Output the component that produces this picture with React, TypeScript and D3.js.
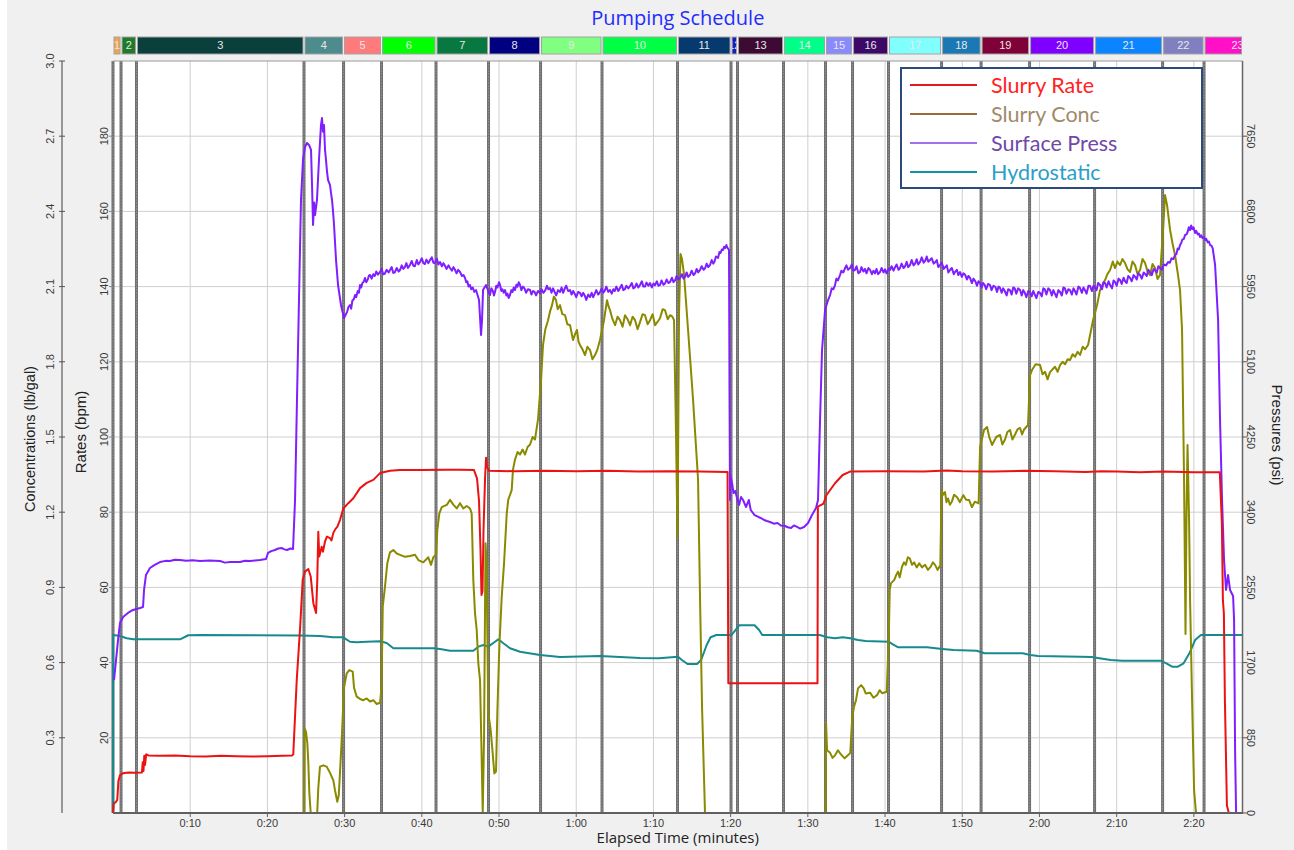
import React from "react";
import * as d3 from "d3";

// ---- chart data -------------------------------------------------------------

// stage boundaries in elapsed minutes (23 stages)
const stageBounds = [
  0, 1.04, 3.04, 24.74, 29.86, 34.78, 41.84, 48.64, 55.38, 63.34, 73.12, 80.05,
  80.89, 86.85, 92.29, 95.79, 100.45, 107.32, 112.44, 118.72, 127.14, 135.95,
  141.32, 150,
];
const stageLabels = [
  "1", "2", "3", "4", "5", "6", "7", "8", "9", "10", "11", "12", "13", "14",
  "15", "16", "17", "18", "19", "20", "21", "22", "23",
];
const stageColors = [
  "#f0a24c", "#1f7a2a", "#0b3f3c", "#4e8b8c", "#ff7b7b", "#00ff00", "#07783f",
  "#000080", "#80ff80", "#00ff44", "#063a6e", "#1020c0", "#3c0a33", "#00ff88",
  "#8a8aff", "#3c0a66", "#80ffff", "#1a78b4", "#800038", "#8000ff", "#0a84ff",
  "#8080c0", "#ff10c8",
];

const timeTicks = [10, 20, 30, 40, 50, 60, 70, 80, 90, 100, 110, 120, 130, 140];
const rateTicks = [20, 40, 60, 80, 100, 120, 140, 160, 180];
const concTicks = [0.3, 0.6, 0.9, 1.2, 1.5, 1.8, 2.1, 2.4, 2.7, 3.0];
const pressTicks = [0, 850, 1700, 2550, 3400, 4250, 5100, 5950, 6800, 7650];

// [minutes, bpm]
const slurryRate: [number, number][] = [
  [0, 0], [0.1, 2.5], [0.4, 3.0], [0.55, 3.5], [0.7, 8.5], [0.9, 10.0], [1.3, 10.6],
  [2.0, 10.8], [2.8, 10.7], [3.75, 10.8], [3.85, 13.5], [3.95, 11.2], [4.05, 15.2],
  [4.15, 12.8], [4.3, 15.6], [4.6, 15.3], [6, 15.2], [8, 15.3], [10, 15.1], [12, 15.0],
  [14, 15.2], [16, 15.1], [18, 15.0], [20, 15.1], [22, 15.2], [23.19, 15.3],
  [23.35, 15.6], [23.8, 35.4], [24.22, 48.7], [24.57, 62], [24.87, 64.2], [25.3, 64.9],
  [25.61, 62.9], [25.95, 55.8], [26.3, 53.2], [26.46, 62], [26.59, 74.8], [26.72, 68.2],
  [27.03, 70.8], [27.2, 69.5], [27.46, 72.2], [27.7, 73.5], [28.11, 73.1], [28.3, 72.5],
  [28.54, 74.5], [28.8, 75.5], [29.05, 76.1], [29.4, 77.9], [29.83, 81], [30.48, 82.4],
  [31.13, 83.7], [32.0, 86.4], [32.86, 87.8], [33.72, 88.6], [34.59, 90.4], [35.88, 91.0],
  [37.18, 91.2], [40, 91.2], [43, 91.3], [45, 91.3], [46.76, 91.2], [47.15, 89],
  [47.41, 83], [47.6, 70], [47.73, 58], [47.86, 59], [47.99, 75], [48.19, 89],
  [48.32, 94.5], [48.45, 92], [48.7, 91], [52, 90.9], [56, 91.0], [60, 90.9], [64, 91.0],
  [68, 90.8], [72, 90.9], [76, 90.8], [79.6, 90.7], [79.7, 34.5], [85, 34.5],
  [91.25, 34.5], [91.3, 81.5], [92.03, 82.3], [92.4, 84.5], [92.75, 85.5], [93.52, 87.7],
  [94.51, 89.9], [95.47, 90.8], [100, 90.9], [105, 90.8], [108, 91.1], [110, 90.9],
  [114, 90.8], [118, 91.0], [122, 90.9], [126, 90.7], [128, 90.9], [130, 90.8],
  [133, 90.6], [136, 90.8], [140, 90.6], [143.36, 90.6], [143.63, 77], [143.76, 56.6],
  [143.89, 53], [144.02, 30], [144.28, 2], [144.53, 0], [146.3, 0],
];

// [minutes, lb/gal]
const slurryConc: [number, number][] = [
  [0, 0], [24.75, 0], [24.81, 0.338], [25.0, 0.324], [25.17, 0.279], [25.3, 0.2],
  [25.43, 0.08], [25.61, 0], [26.45, 0], [26.59, 0.1], [26.81, 0.185], [27.24, 0.19],
  [27.68, 0.185], [28.11, 0.16], [28.54, 0.13], [28.76, 0.09], [29.05, 0.045],
  [29.24, 0.07], [29.4, 0.16], [29.62, 0.29], [29.92, 0.5], [30.27, 0.557], [30.61, 0.57],
  [31.05, 0.564], [31.22, 0.5], [31.57, 0.464], [32.0, 0.455], [32.42, 0.45],
  [32.86, 0.457], [33.29, 0.445], [33.72, 0.45], [34.16, 0.435], [34.59, 0.44],
  [34.78, 0.5], [34.94, 0.823], [35.23, 0.903], [35.53, 0.996], [35.88, 1.04],
  [36.31, 1.049], [36.75, 1.035], [37.18, 1.03], [37.82, 1.022], [38.47, 1.025],
  [39.12, 1.03], [39.55, 1.009], [40.19, 1.0], [40.84, 1.02], [41.19, 0.99],
  [41.49, 1.02], [41.84, 1.03], [42.01, 1.129], [42.27, 1.195], [42.58, 1.22],
  [43.23, 1.229], [43.65, 1.249], [44.08, 1.23], [44.52, 1.215], [44.95, 1.236],
  [45.38, 1.215], [45.82, 1.225], [46.24, 1.215], [46.46, 1.195], [46.67, 0.93],
  [46.89, 0.797], [47.11, 0.73], [47.32, 0.597], [47.54, 0.53], [47.73, 0.25],
  [47.89, 0], [48.06, 0.3], [48.25, 1.076], [48.38, 1.0], [48.61, 0.398], [48.92, 0.331],
  [49.18, 0.238], [49.39, 0.158], [49.61, 0.165], [49.78, 0.398], [50.04, 0.663],
  [50.35, 0.863], [50.65, 0.996], [51.0, 1.195], [51.2, 1.25], [51.64, 1.288],
  [51.81, 1.37], [52.07, 1.41], [52.4, 1.44], [52.72, 1.43], [53.05, 1.45], [53.37, 1.43],
  [53.7, 1.46], [54.02, 1.47], [54.35, 1.5], [54.66, 1.49], [55.05, 1.57], [55.44, 1.727],
  [55.7, 1.867], [56.0, 1.93], [56.35, 1.966], [56.6, 2.0], [56.87, 2.026], [57.1, 2.06],
  [57.38, 2.046], [57.6, 2.01], [57.9, 2.026], [58.2, 1.99], [58.55, 1.986], [58.85, 1.95],
  [59.2, 1.946], [59.59, 1.887], [59.85, 1.91], [60.1, 1.927], [60.3, 1.88], [60.49, 1.867],
  [60.8, 1.85], [61.14, 1.827], [61.45, 1.86], [61.79, 1.847], [62.1, 1.81], [62.44, 1.827],
  [62.75, 1.85], [63.08, 1.887], [63.6, 1.966], [63.99, 2.046], [64.2, 2.02],
  [64.38, 2.006], [64.7, 1.97], [65.03, 1.946], [65.35, 1.98], [65.67, 1.966],
  [66.0, 1.94], [66.32, 1.986], [66.65, 1.97], [66.97, 1.946], [67.3, 1.98],
  [67.62, 1.966], [67.95, 1.93], [68.26, 1.958], [68.6, 1.99], [68.91, 1.986],
  [69.25, 1.95], [69.56, 1.966], [69.9, 1.99], [70.21, 1.946], [70.55, 1.96],
  [70.85, 1.974], [71.2, 2.01], [71.5, 2.006], [71.85, 1.97], [72.15, 1.986],
  [72.45, 1.98], [72.67, 1.966], [72.93, 1.5], [73.12, 1.1], [73.32, 2.0], [73.51, 2.23],
  [73.7, 2.21], [73.96, 2.15], [74.48, 1.93], [75.13, 1.65], [75.78, 1.33], [76.04, 0.85],
  [76.3, 0.42], [76.68, 0], [92.3, 0], [92.36, 0.358], [92.49, 0.25], [92.88, 0.24],
  [93.2, 0.22], [93.52, 0.23], [93.9, 0.25], [94.26, 0.235], [94.77, 0.218],
  [95.26, 0.232], [95.5, 0.24], [95.75, 0.384], [95.98, 0.424], [96.24, 0.45],
  [96.5, 0.497], [96.9, 0.51], [97.24, 0.497], [97.49, 0.477], [98.06, 0.48],
  [98.5, 0.46], [98.96, 0.47], [99.3, 0.49], [99.61, 0.478], [100.22, 0.484],
  [100.47, 0.69], [100.61, 0.89], [100.76, 0.916], [101.2, 0.93], [101.45, 0.95],
  [101.68, 0.963], [101.9, 0.94], [102.2, 0.983], [102.45, 1.0], [102.69, 0.99],
  [102.95, 1.02], [103.2, 1.016], [103.5, 0.99], [103.76, 1.0], [104.1, 0.98],
  [104.43, 0.996], [104.8, 0.98], [105.18, 0.99], [105.55, 0.97], [105.92, 0.983],
  [106.2, 1.0], [106.48, 0.99], [106.8, 0.97], [107.16, 0.988], [107.32, 1.288],
  [107.55, 1.27], [107.77, 1.28], [107.95, 1.24], [108.16, 1.255], [108.4, 1.23],
  [108.65, 1.242], [108.95, 1.27], [109.33, 1.26], [109.7, 1.24], [110.14, 1.268],
  [110.5, 1.25], [110.88, 1.249], [111.25, 1.22], [111.63, 1.242], [112.12, 1.235],
  [112.31, 1.461], [112.82, 1.528], [113.21, 1.54], [113.5, 1.5], [113.86, 1.468],
  [114.4, 1.5], [114.9, 1.508], [115.2, 1.47], [115.54, 1.49], [115.85, 1.52],
  [116.19, 1.528], [116.5, 1.49], [116.84, 1.51], [117.15, 1.53], [117.49, 1.536],
  [117.75, 1.51], [118.01, 1.53], [118.52, 1.548], [118.78, 1.747], [119.04, 1.767],
  [119.5, 1.79], [120.08, 1.787], [120.4, 1.75], [120.73, 1.76], [121.05, 1.73],
  [121.37, 1.759], [121.7, 1.77], [122.02, 1.78], [122.35, 1.76], [122.67, 1.787],
  [123.0, 1.8], [123.32, 1.79], [123.65, 1.81], [123.96, 1.807], [124.3, 1.83],
  [124.61, 1.82], [124.95, 1.84], [125.26, 1.827], [125.6, 1.86], [125.91, 1.85],
  [126.3, 1.867], [126.94, 1.966], [127.46, 2.026], [127.85, 2.086], [128.2, 2.11],
  [128.5, 2.126], [128.8, 2.15], [129.15, 2.166], [129.5, 2.2], [129.79, 2.174],
  [130.1, 2.2], [130.44, 2.186], [130.75, 2.21], [131.09, 2.194], [131.4, 2.17],
  [131.74, 2.158], [132.05, 2.2], [132.38, 2.186], [132.7, 2.15], [133.03, 2.166],
  [133.35, 2.21], [133.68, 2.194], [134.0, 2.16], [134.33, 2.146], [134.65, 2.19],
  [134.97, 2.174], [135.3, 2.13], [135.62, 2.146], [136.01, 2.326], [136.27, 2.465],
  [136.53, 2.425], [136.92, 2.326], [137.25, 2.27], [137.56, 2.226], [137.95, 2.146],
  [138.21, 2.086], [138.47, 1.927], [138.73, 1.33], [138.92, 0.714], [139.05, 1.2],
  [139.18, 1.468], [139.38, 1.17], [139.51, 0.85], [139.77, 0.45], [140.03, 0.09],
  [140.28, 0], [146.3, 0],
];

// [minutes, psi]
const surfacePress: [number, number][] = [
  [0.13, 1503], [0.39, 1729], [0.65, 1955], [0.91, 2148], [1.3, 2215], [1.94, 2261],
  [2.59, 2295], [3.5, 2317], [3.89, 2328], [4.02, 2521], [4.27, 2690], [4.79, 2769],
  [5.4, 2805], [6.09, 2837], [6.8, 2850], [7.38, 2848], [8.0, 2862], [8.68, 2860],
  [9.5, 2851], [10.3, 2858], [11.27, 2848], [12.5, 2855], [13.86, 2848], [14.5, 2830],
  [15.16, 2837], [16.45, 2837], [17.1, 2852], [17.75, 2848], [18.4, 2855], [19.04, 2860],
  [19.82, 2871], [20.08, 2939], [20.5, 2960], [20.98, 2973], [21.4, 2990], [21.89, 2995],
  [22.2, 2980], [22.54, 2973], [23.0, 2990], [23.32, 2984], [23.58, 3538], [23.83, 4668],
  [24.09, 5798], [24.35, 6929], [24.61, 7381], [24.87, 7528], [25.13, 7573],
  [25.39, 7551], [25.65, 7495], [25.78, 7098], [25.91, 6646], [26.05, 6900],
  [26.17, 6759], [26.42, 6929], [26.68, 7381], [26.94, 7776], [27.07, 7855],
  [27.2, 7700], [27.33, 7776], [27.46, 7500], [27.59, 7381], [27.72, 7250],
  [27.85, 7155], [28.11, 7098], [28.25, 7000], [28.37, 6929], [28.5, 6800],
  [28.63, 6646], [28.89, 6250], [29.15, 5968], [29.53, 5742], [29.92, 5595],
  [30.31, 5662], [30.5, 5720], [30.7, 5742], [30.85, 5700], [31.0, 5790], [31.2, 5810],
  [31.35, 5855], [31.5, 5830], [31.7, 5900], [31.85, 5880], [32.0, 5968], [32.15, 5940],
  [32.3, 5990], [32.5, 6010], [32.64, 6048], [32.8, 6000], [33.0, 6030], [33.15, 6075],
  [33.29, 6081], [33.5, 6040], [33.7, 6090], [33.9, 6070], [34.1, 6120], [34.3, 6085],
  [34.59, 6115], [34.8, 6150], [35.0, 6090], [35.2, 6095], [35.45, 6140], [35.7, 6110],
  [35.88, 6138], [36.1, 6170], [36.3, 6105], [36.5, 6110], [36.75, 6160], [37.0, 6120],
  [37.18, 6138], [37.4, 6190], [37.6, 6150], [37.8, 6170], [38.0, 6215], [38.2, 6160],
  [38.47, 6194], [38.7, 6240], [38.9, 6185], [39.1, 6180], [39.35, 6250], [39.55, 6200],
  [39.77, 6228], [40.0, 6270], [40.2, 6215], [40.4, 6205], [40.6, 6255], [40.85, 6215],
  [41.06, 6250], [41.3, 6280], [41.5, 6220], [41.7, 6215], [41.95, 6265], [42.15, 6200],
  [42.36, 6228], [42.6, 6180], [42.8, 6215], [43.0, 6185], [43.2, 6150], [43.45, 6190],
  [43.65, 6160], [43.9, 6130], [44.1, 6170], [44.3, 6140], [44.5, 6100], [44.7, 6140],
  [44.95, 6115], [45.2, 6070], [45.4, 6080], [45.6, 6048], [45.75, 6000], [45.9, 6010],
  [46.05, 5950], [46.24, 5968], [46.4, 5920], [46.6, 5940], [46.8, 5890], [47.02, 5911],
  [47.2, 5860], [47.41, 5798], [47.67, 5403], [47.8, 5572], [47.93, 5911], [48.32, 5968],
  [48.6, 5900], [48.83, 5855], [49.0, 5930], [49.2, 5900], [49.35, 5850], [49.48, 5889],
  [49.65, 5960], [49.8, 5940], [50.0, 6000], [50.13, 5968], [50.3, 5900], [50.45, 5920],
  [50.6, 5880], [50.78, 5911], [50.95, 5850], [51.1, 5870], [51.25, 5820], [51.42, 5855],
  [51.6, 5910], [51.75, 5890], [51.9, 5940], [52.07, 5911], [52.25, 5970], [52.4, 5950],
  [52.55, 6000], [52.72, 5968], [52.9, 5910], [53.1, 5950], [53.3, 5930], [53.5, 5880],
  [53.75, 5920], [54.02, 5911], [54.2, 5860], [54.4, 5900], [54.6, 5890], [54.8, 5850],
  [55.05, 5900], [55.31, 5878], [55.5, 5920], [55.75, 5880], [56.0, 5910], [56.2, 5960],
  [56.4, 5920], [56.61, 5934], [56.8, 5880], [57.0, 5930], [57.2, 5890], [57.4, 5850],
  [57.65, 5910], [57.9, 5889], [58.1, 5940], [58.3, 5880], [58.5, 5925], [58.7, 5960],
  [58.95, 5900], [59.2, 5911], [59.4, 5860], [59.6, 5900], [59.8, 5870], [60.0, 5830],
  [60.25, 5890], [60.49, 5878], [60.7, 5840], [60.9, 5880], [61.1, 5850], [61.3, 5800],
  [61.55, 5860], [61.79, 5832], [62.0, 5880], [62.2, 5830], [62.4, 5870], [62.6, 5910],
  [62.85, 5860], [63.08, 5889], [63.3, 5930], [63.5, 5880], [63.7, 5905], [63.9, 5950],
  [64.15, 5890], [64.38, 5911], [64.6, 5870], [64.8, 5920], [65.0, 5900], [65.2, 5950],
  [65.45, 5900], [65.67, 5934], [65.9, 5970], [66.1, 5910], [66.3, 5920], [66.5, 5960],
  [66.75, 5930], [66.97, 5957], [67.2, 5990], [67.4, 5930], [67.6, 5940], [67.8, 5985],
  [68.05, 5940], [68.26, 5968], [68.5, 6010], [68.7, 5950], [68.9, 5950], [69.1, 5995],
  [69.35, 5960], [69.56, 5990], [69.8, 5940], [70.0, 5985], [70.2, 5965], [70.45, 6010],
  [70.65, 5960], [70.85, 5968], [71.05, 6020], [71.3, 5970], [71.5, 5985], [71.7, 6030],
  [71.95, 5990], [72.15, 6002], [72.4, 6050], [72.6, 6000], [72.8, 6020], [73.0, 6070],
  [73.25, 6030], [73.45, 6048], [73.7, 6090], [73.9, 6040], [74.1, 6060], [74.3, 6110],
  [74.5, 6060], [74.74, 6081], [74.95, 6130], [75.2, 6080], [75.4, 6100], [75.6, 6150],
  [75.8, 6110], [76.04, 6138], [76.25, 6180], [76.5, 6140], [76.7, 6160], [76.9, 6210],
  [77.1, 6170], [77.33, 6194], [77.55, 6250], [77.75, 6210], [77.9, 6230], [78.1, 6290],
  [78.37, 6274], [78.55, 6340], [78.7, 6330], [78.85, 6370], [79.02, 6364], [79.15, 6400],
  [79.3, 6385], [79.45, 6420], [79.53, 6398], [79.79, 6364], [79.86, 4668], [79.92, 3538],
  [79.99, 3809], [80.18, 3730], [80.38, 3617], [80.6, 3640], [80.83, 3560], [81.09, 3481],
  [81.35, 3572], [81.61, 3538], [82.0, 3459], [82.36, 3538], [82.6, 3425], [83.1, 3368],
  [83.6, 3346], [84.0, 3330], [84.33, 3312], [84.7, 3300], [85.1, 3289], [85.6, 3270],
  [86.07, 3278], [86.5, 3250], [87.05, 3244], [87.4, 3230], [87.82, 3221], [88.2, 3250],
  [88.6, 3233], [89.0, 3215], [89.51, 3233], [90.03, 3278], [90.54, 3368], [91.06, 3447],
  [91.32, 3538], [91.58, 4442], [91.84, 5233], [92.23, 5685], [92.55, 5780],
  [92.88, 5855], [93.1, 5930], [93.3, 5920], [93.52, 5968], [93.7, 6040], [93.9, 6020],
  [94.17, 6081], [94.35, 6130], [94.6, 6110], [94.82, 6160], [95.0, 6190], [95.2, 6140],
  [95.47, 6160], [95.7, 6200], [95.9, 6130], [96.11, 6138], [96.3, 6180], [96.55, 6100],
  [96.76, 6115], [96.95, 6170], [97.2, 6120], [97.4, 6150], [97.6, 6100], [97.85, 6160],
  [98.06, 6138], [98.3, 6090], [98.5, 6130], [98.7, 6100], [98.9, 6150], [99.1, 6090],
  [99.35, 6115], [99.55, 6160], [99.8, 6110], [100.0, 6145], [100.2, 6100], [100.45, 6150],
  [100.65, 6138], [100.85, 6180], [101.1, 6130], [101.3, 6170], [101.5, 6200],
  [101.75, 6140], [101.94, 6160], [102.15, 6210], [102.4, 6160], [102.6, 6180],
  [102.8, 6230], [103.0, 6170], [103.24, 6194], [103.45, 6250], [103.7, 6190],
  [103.9, 6210], [104.1, 6260], [104.3, 6200], [104.53, 6228], [104.75, 6280],
  [105.0, 6220], [105.2, 6240], [105.4, 6290], [105.6, 6230], [105.83, 6250],
  [106.05, 6270], [106.3, 6210], [106.5, 6225], [106.7, 6250], [106.9, 6170],
  [107.12, 6194], [107.35, 6220], [107.6, 6150], [107.8, 6170], [108.0, 6190],
  [108.2, 6110], [108.42, 6138], [108.65, 6160], [108.9, 6090], [109.1, 6120],
  [109.3, 6140], [109.5, 6080], [109.72, 6115], [109.95, 6060], [110.15, 6100],
  [110.4, 6080], [110.6, 6030], [110.8, 6070], [111.01, 6048], [111.25, 5990],
  [111.45, 6040], [111.7, 6010], [111.9, 5960], [112.1, 6010], [112.31, 5990],
  [112.5, 5940], [112.7, 5990], [112.9, 5970], [113.1, 5920], [113.35, 5980],
  [113.6, 5968], [113.8, 5910], [114.05, 5960], [114.3, 5945], [114.5, 5890],
  [114.7, 5950], [114.9, 5934], [115.1, 5880], [115.3, 5930], [115.5, 5900],
  [115.75, 5850], [115.95, 5920], [116.19, 5911], [116.4, 5860], [116.6, 5940],
  [116.8, 5930], [117.0, 5870], [117.25, 5930], [117.49, 5911], [117.7, 5850],
  [117.9, 5910], [118.1, 5880], [118.3, 5830], [118.55, 5900], [118.78, 5889],
  [119.0, 5840], [119.2, 5900], [119.4, 5860], [119.6, 5820], [119.85, 5890],
  [120.08, 5878], [120.3, 5840], [120.5, 5930], [120.7, 5920], [120.9, 5860],
  [121.15, 5930], [121.37, 5911], [121.6, 5850], [121.8, 5910], [122.0, 5870],
  [122.2, 5830], [122.45, 5910], [122.67, 5889], [122.9, 5850], [123.1, 5940],
  [123.3, 5930], [123.5, 5870], [123.75, 5920], [123.96, 5911], [124.2, 5860],
  [124.4, 5930], [124.6, 5900], [124.8, 5860], [125.05, 5950], [125.26, 5934],
  [125.5, 5880], [125.7, 5940], [125.9, 5910], [126.1, 5870], [126.35, 5960],
  [126.55, 5957], [126.8, 5900], [127.0, 5960], [127.2, 5940], [127.4, 5910],
  [127.6, 5990], [127.85, 5968], [128.1, 5920], [128.3, 6000], [128.5, 5990],
  [128.7, 5940], [128.95, 6010], [129.15, 5968], [129.4, 5930], [129.6, 6020],
  [129.8, 6000], [130.0, 5960], [130.25, 6040], [130.44, 6025], [130.65, 5980],
  [130.9, 6050], [131.1, 6010], [131.3, 5990], [131.5, 6070], [131.74, 6048],
  [131.95, 6010], [132.2, 6080], [132.4, 6060], [132.6, 6030], [132.8, 6100],
  [133.03, 6081], [133.25, 6040], [133.5, 6110], [133.7, 6090], [133.9, 6070],
  [134.1, 6140], [134.33, 6115], [134.55, 6080], [134.8, 6150], [135.0, 6130],
  [135.2, 6110], [135.4, 6180], [135.62, 6160], [135.85, 6140], [136.1, 6200],
  [136.4, 6190], [136.66, 6228], [136.9, 6220], [137.1, 6270], [137.35, 6260],
  [137.56, 6307], [137.75, 6320], [137.9, 6380], [138.05, 6370], [138.21, 6420],
  [138.35, 6440], [138.5, 6480], [138.7, 6490], [138.86, 6533], [139.05, 6540],
  [139.2, 6570], [139.35, 6620], [139.51, 6590], [139.65, 6640], [139.8, 6600],
  [139.95, 6620], [140.16, 6556], [140.3, 6580], [140.5, 6540], [140.65, 6550],
  [140.8, 6511], [140.95, 6530], [141.1, 6500], [141.3, 6510], [141.45, 6477],
  [141.6, 6490], [141.8, 6450], [141.95, 6460], [142.1, 6420], [142.3, 6410],
  [142.45, 6380], [142.75, 6194], [143.14, 5572], [143.39, 4442], [143.65, 3538],
  [143.91, 2860], [144.17, 2521], [144.43, 2690], [144.69, 2521], [145.08, 2453],
  [145.21, 2181], [145.34, 712], [145.47, 0], [146.3, 0],
];

// [minutes, psi]
const hydrostatic: [number, number][] = [
  [0, 0], [0.02, 2012], [0.04, 2012], [0.91, 2000], [1.77, 1975], [2.63, 1963],
  [4.79, 1963], [8.68, 1963], [9.75, 2009], [11.27, 2012], [24.22, 2006], [26.81, 2001],
  [28.54, 1986], [29.83, 1986], [30.7, 1936], [31.57, 1929], [32.86, 1936], [34.59, 1941],
  [35.45, 1922], [36.31, 1862], [41.49, 1862], [42.36, 1854], [43.65, 1834],
  [46.67, 1834], [47.32, 1880], [47.97, 1899], [48.61, 1880], [49.48, 1936],
  [49.91, 1963], [50.56, 1918], [51.42, 1862], [52.72, 1823], [55.31, 1786],
  [57.9, 1763], [63.08, 1775], [68.26, 1752], [70.7, 1749], [73.19, 1767], [73.68, 1729],
  [74.42, 1684], [75.65, 1684], [76.17, 1729], [76.9, 1899], [77.4, 1986], [78.15, 2012],
  [80.13, 2012], [80.62, 2068], [81.11, 2122], [83.1, 2122], [83.69, 2068], [84.09, 2012],
  [91.54, 2012], [92.53, 1986], [93.52, 1975], [94.51, 1986], [95.5, 1975], [96.5, 1955],
  [97.49, 1944], [100.47, 1936], [100.96, 1910], [101.71, 1873], [105.43, 1873],
  [107.41, 1854], [108.9, 1842], [111.88, 1834], [112.88, 1805], [117.84, 1805],
  [118.82, 1786], [119.82, 1775], [125.26, 1767], [126.76, 1763], [127.75, 1749],
  [129.24, 1729], [130.73, 1722], [135.69, 1722], [136.44, 1692], [137.18, 1654],
  [137.93, 1654], [138.67, 1692], [139.42, 1805], [140.16, 1955], [140.91, 2012],
  [146.3, 2012],
];

const legendItems = [
  { name: "Slurry Rate", line: "#e41a1c", text: "#ff2222" },
  { name: "Slurry Conc", line: "#9b6b3b", text: "#a08a6a" },
  { name: "Surface Press", line: "#a070f0", text: "#7048a8" },
  { name: "Hydrostatic", line: "#1590a8", text: "#2aa0c8" },
];

// ---- component ---------------------------------------------------------------

const W = 1294;
const H = 850;
const PL = 113;
const PR = 1242.5;
const PT = 61;
const PB = 813;
const TICK_FONT = "'Liberation Sans', Arial, sans-serif";

const fmtTime = (m: number) => `${Math.floor(m / 60)}:${String(m % 60).padStart(2, "0")}`;

export default function App() {
  const x = d3.scaleLinear().domain([0, 146.3]).range([PL, PR]);
  const yRate = d3.scaleLinear().domain([0, 200]).range([PB, PT]);
  const yConc = d3.scaleLinear().domain([0, 3]).range([PB, PT]);
  const yPress = d3.scaleLinear().domain([0, 8500]).range([PB, PT]);

  const lineFor = (ys: d3.ScaleLinear<number, number>) =>
    d3
      .line<[number, number]>()
      .x((d) => x(d[0]))
      .y((d) => ys(d[1]));

  const stages = stageLabels.map((label, i) => {
    const x0 = x(stageBounds[i]);
    const x1raw = x(stageBounds[i + 1]);
    const x1 = Math.min(x1raw, PR);
    return { label, color: stageColors[i], x0, x1, cx: (x0 + x1raw) / 2, t: stageBounds[i] };
  });

  const barY = 37;
  const barH = 17;

  return (
    <svg
      width={W}
      height={H}
      style={{ position: "absolute", left: 0, top: 0, display: "block" }}
      xmlns="http://www.w3.org/2000/svg"
    >
      <defs>
        {stages.map((s, i) => (
          <clipPath id={`stage-clip-${i}`} key={i}>
            <rect x={s.x0 + 1} y={barY} width={Math.max(0, s.x1 - s.x0 - 2)} height={barH} />
          </clipPath>
        ))}
      </defs>

      <rect x={0} y={0} width={W} height={H} fill="#ffffff" />
      <rect x={7} y={0} width={W - 7} height={H} fill="#f0f0f0" />

      {/* title */}
      <text
        x={(PL + PR) / 2}
        y={25}
        textAnchor="middle"
        fontFamily="'Open Sans', 'Noto Sans', sans-serif"
        fontSize={20}
        fill="#1f2dff"
      >
        Pumping Schedule
      </text>

      {/* stage schedule bar */}
      <g>
        {stages.map((s, i) => (
          <g key={i}>
            <rect
              x={s.x0 + 1}
              y={barY}
              width={Math.max(0, s.x1 - s.x0 - 2)}
              height={barH}
              fill={s.color}
              stroke="#a3a3a3"
              strokeWidth={1}
            />
            <text
              x={s.cx}
              y={barY + barH / 2}
              dy="0.36em"
              textAnchor="middle"
              fontFamily={TICK_FONT}
              fontSize={11}
              fill="#e8e8e8"
              clipPath={`url(#stage-clip-${i})`}
            >
              {s.label}
            </text>
          </g>
        ))}
      </g>

      {/* plot background */}
      <rect x={PL} y={PT} width={PR - PL} height={PB - PT} fill="#ffffff" />

      {/* grid */}
      <g stroke="#cfcfcf" strokeWidth={1}>
        {rateTicks.map((v) => (
          <line key={`h${v}`} x1={PL} x2={PR} y1={yRate(v)} y2={yRate(v)} />
        ))}
        {timeTicks.map((t) => (
          <line key={`v${t}`} x1={x(t)} x2={x(t)} y1={PT} y2={PB} />
        ))}
      </g>

      {/* stage boundary markers */}
      <g>
        {stages
          .filter((s) => s.t < 146.3)
          .map((s, i) => (
            <g key={i}>
              <line x1={x(s.t)} x2={x(s.t)} y1={PT} y2={PB} stroke="#6f6f6f" strokeWidth={3} />
              <line x1={x(s.t)} x2={x(s.t)} y1={PT} y2={PB} stroke="#8c8c8c" strokeWidth={1} strokeDasharray="2 1" />
            </g>
          ))}
      </g>

      {/* plot frame */}
      <line x1={PL} x2={PR} y1={PT} y2={PT} stroke="#9a9a9a" strokeWidth={1} />
      <line x1={PR} x2={PR} y1={PT} y2={PB} stroke="#666" strokeWidth={1.5} />

      {/* series */}
      <g fill="none" strokeWidth={2} strokeLinejoin="round">
        <path d={lineFor(yPress)(hydrostatic) ?? ""} stroke="#178a8f" />
        <path d={lineFor(yConc)(slurryConc) ?? ""} stroke="#8a8a00" />
        <path d={lineFor(yPress)(surfacePress) ?? ""} stroke="#7f1fff" />
        <path d={lineFor(yRate)(slurryRate) ?? ""} stroke="#ec1212" />
      </g>

      {/* bottom axis */}
      <line x1={PL} x2={PR} y1={PB} y2={PB} stroke="#606060" strokeWidth={2} />
      <g fontFamily={TICK_FONT} fontSize={11} fill="#3a3a3a">
        {timeTicks.map((t) => (
          <g key={t}>
            <line x1={x(t)} x2={x(t)} y1={PB} y2={PB + 4} stroke="#606060" />
            <text x={x(t)} y={827} textAnchor="middle">
              {fmtTime(t)}
            </text>
          </g>
        ))}
      </g>
      <text
        x={(PL + PR) / 2}
        y={843}
        textAnchor="middle"
        fontFamily="'Open Sans', 'Noto Sans', sans-serif"
        fontSize={15}
        fill="#222"
      >
        Elapsed Time (minutes)
      </text>

      {/* concentration axis */}
      <line x1={62} x2={62} y1={PT} y2={PB} stroke="#7a7a7a" strokeWidth={1.5} />
      <g fontFamily={TICK_FONT} fontSize={11} fill="#3a3a3a">
        {concTicks.map((v) => (
          <g key={v}>
            <line x1={59} x2={65} y1={yConc(v)} y2={yConc(v)} stroke="#555" />
            <text transform={`translate(50,${yConc(v)}) rotate(-90)`} textAnchor="middle" dy="0.35em">
              {v.toFixed(1)}
            </text>
          </g>
        ))}
      </g>
      <text
        transform={`translate(30,439) rotate(-90)`}
        textAnchor="middle"
        dy="0.35em"
        fontFamily={TICK_FONT}
        fontSize={14.5}
        fill="#222"
      >
        Concentrations (lb/gal)
      </text>

      {/* rate axis */}
      <g fontFamily={TICK_FONT} fontSize={11} fill="#3a3a3a">
        {rateTicks.map((v) => (
          <g key={v}>
            <line x1={109} x2={PL} y1={yRate(v)} y2={yRate(v)} stroke="#888" />
            <text transform={`translate(104,${yRate(v)}) rotate(-90)`} textAnchor="middle" dy="0.35em">
              {v}
            </text>
          </g>
        ))}
      </g>
      <text
        transform={`translate(81,432) rotate(-90)`}
        textAnchor="middle"
        dy="0.35em"
        fontFamily={TICK_FONT}
        fontSize={15}
        fill="#222"
      >
        Rates (bpm)
      </text>

      {/* pressure axis */}
      <g fontFamily={TICK_FONT} fontSize={11} fill="#3a3a3a">
        {pressTicks.map((v) => (
          <g key={v}>
            <line x1={PR} x2={PR + 5} y1={yPress(v)} y2={yPress(v)} stroke="#555" />
            <text transform={`translate(1251,${yPress(v)}) rotate(90)`} textAnchor="middle" dy="0.35em">
              {v}
            </text>
          </g>
        ))}
      </g>
      <text
        transform={`translate(1277,435) rotate(90)`}
        textAnchor="middle"
        dy="0.35em"
        fontFamily={TICK_FONT}
        fontSize={15}
        fill="#222"
      >
        Pressures (psi)
      </text>

      {/* legend */}
      <g>
        <rect x={901} y={68} width={301} height={120} fill="#ffffff" stroke="#2e4a7a" strokeWidth={2} />
        {legendItems.map((item, i) => {
          const ly = 85 + i * 29;
          return (
            <g key={item.name}>
              <line x1={910} x2={977} y1={ly} y2={ly} stroke={item.line} strokeWidth={2} />
              <text
                x={991}
                y={ly}
                dy="0.35em"
                fontFamily="Lato, 'Open Sans', sans-serif"
                fontSize={21.5}
                fill={item.text}
              >
                {item.name}
              </text>
            </g>
          );
        })}
      </g>
    </svg>
  );
}
